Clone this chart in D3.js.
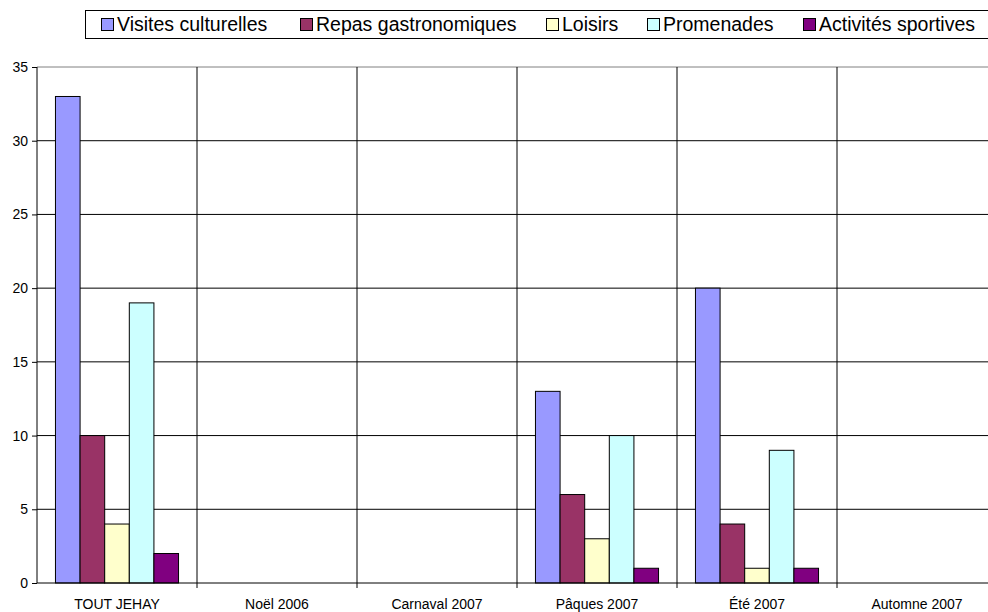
<!DOCTYPE html>
<html>
<head>
<meta charset="utf-8">
<script src="https://cdn.jsdelivr.net/npm/d3@7"></script>
<style>
  body { margin: 0; background: #fff; }
  svg { display: block; font-family: Arial, "Liberation Sans", sans-serif; }
</style>
</head>
<body>
<svg id="chart"></svg>
<script>
// categories and series
const categories = ["TOUT JEHAY", "Noël 2006", "Carnaval 2007", "Pâques 2007", "Été 2007", "Automne 2007"];
const seriesNames = ["Visites culturelles", "Repas gastronomiques", "Loisirs", "Promenades", "Activités sportives"];
const visites = [33, 0, 0, 13, 20, 0];
const repas = [10, 0, 0, 6, 4, 0];
const loisirs = [4, 0, 0, 3, 1, 0];
const promenades = [19, 0, 0, 10, 9, 0];
const sportives = [2, 0, 0, 1, 1, 0];
const yTicks = [0, 5, 10, 15, 20, 25, 30, 35];

const colors = ["#9999FF", "#993366", "#FFFFCC", "#CCFFFF", "#800080"];
const seriesValues = [visites, repas, loisirs, promenades, sportives];

const width = 988;
const height = 612;
const margin = { top: 67, right: -9, bottom: 29, left: 37 };

const svg = d3.select("#chart").attr("width", width).attr("height", height);
svg.append("rect").attr("width", width).attr("height", height).attr("fill", "#fff");

const xScale = d3.scaleBand()
  .domain(categories)
  .range([margin.left, width - margin.right]);

const xInner = d3.scaleBand()
  .domain(seriesNames)
  .range([0, xScale.bandwidth()])
  .paddingOuter(0.75)
  .paddingInner(0);

const yScale = d3.scaleLinear()
  .domain([0, 35])
  .range([height - margin.bottom, margin.top]);

// horizontal gridlines
svg.append("g")
  .selectAll("line")
  .data(yTicks.filter(d => d > 0 && d < 35))
  .enter()
  .append("line")
  .attr("x1", margin.left)
  .attr("x2", width - margin.right)
  .attr("y1", d => yScale(d))
  .attr("y2", d => yScale(d))
  .style("stroke", "#000")
  .style("stroke-width", 1);

// top border of the plot area
svg.append("line")
  .attr("x1", margin.left)
  .attr("x2", width - margin.right)
  .attr("y1", yScale(35))
  .attr("y2", yScale(35))
  .style("stroke", "#808080")
  .style("stroke-width", 1);

// vertical gridlines at category boundaries
const boundaries = categories.slice(1).map(c => xScale(c));
svg.append("g")
  .selectAll("line")
  .data(boundaries)
  .enter()
  .append("line")
  .attr("x1", d => d)
  .attr("x2", d => d)
  .attr("y1", yScale(35))
  .attr("y2", yScale(0) + 5)
  .style("stroke", "#000")
  .style("stroke-width", 1);

// bars
const rows = categories.map((c, i) => ({
  cat: c,
  vals: seriesNames.map((s, j) => ({ s, v: seriesValues[j][i], color: colors[j] }))
}));

svg.append("g")
  .selectAll("g")
  .data(rows)
  .enter()
  .append("g")
  .attr("transform", d => `translate(${xScale(d.cat)},0)`)
  .selectAll("rect")
  .data(d => d.vals.filter(v => v.v > 0))
  .enter()
  .append("rect")
  .attr("x", d => xInner(d.s))
  .attr("y", d => yScale(d.v))
  .attr("width", xInner.bandwidth())
  .attr("height", d => yScale(0) - yScale(d.v))
  .style("fill", d => d.color)
  .style("stroke", "#000")
  .style("stroke-width", 1);

// y axis
const yAxis = d3.axisLeft(yScale).tickValues(yTicks).tickSize(5).tickPadding(4);
svg.append("g")
  .attr("transform", `translate(${margin.left},0)`)
  .call(yAxis)
  .call(g => g.select(".domain").attr("d", `M0,${yScale(0)}V${yScale(35)}`).style("stroke", "#000"))
  .selectAll("text")
  .style("fill", "#000")
  .style("font-size", "14px")
  .style("font-family", "Arial, 'Liberation Sans', sans-serif");

// x axis
svg.append("line")
  .attr("x1", margin.left)
  .attr("x2", width - margin.right)
  .attr("y1", yScale(0))
  .attr("y2", yScale(0))
  .style("stroke", "#000");

svg.append("g")
  .selectAll("text")
  .data(categories)
  .enter()
  .append("text")
  .attr("x", d => xScale(d) + xScale.bandwidth() / 2)
  .attr("y", yScale(0) + 26)
  .attr("text-anchor", "middle")
  .style("font-size", "14px")
  .style("fill", "#000")
  .text(d => d);

// legend
const legend = svg.append("g");
legend.append("rect")
  .attr("x", 85.5)
  .attr("y", 10.5)
  .attr("width", 910)
  .attr("height", 28)
  .style("fill", "#fff")
  .style("stroke", "#000");

const legendX = [101, 300, 546, 647, 803];
const items = legend.selectAll("g.item")
  .data(seriesNames)
  .enter()
  .append("g")
  .attr("class", "item")
  .attr("transform", (d, i) => `translate(${legendX[i]},0)`);

items.append("rect")
  .attr("x", 0.5)
  .attr("y", 18.5)
  .attr("width", 12)
  .attr("height", 12)
  .style("fill", (d, i) => colors[i])
  .style("stroke", "#000");

items.append("text")
  .attr("x", 16)
  .attr("y", 31)
  .style("font-size", "19.5px")
  .style("fill", "#000")
  .text(d => d);
</script>
</body>
</html>
